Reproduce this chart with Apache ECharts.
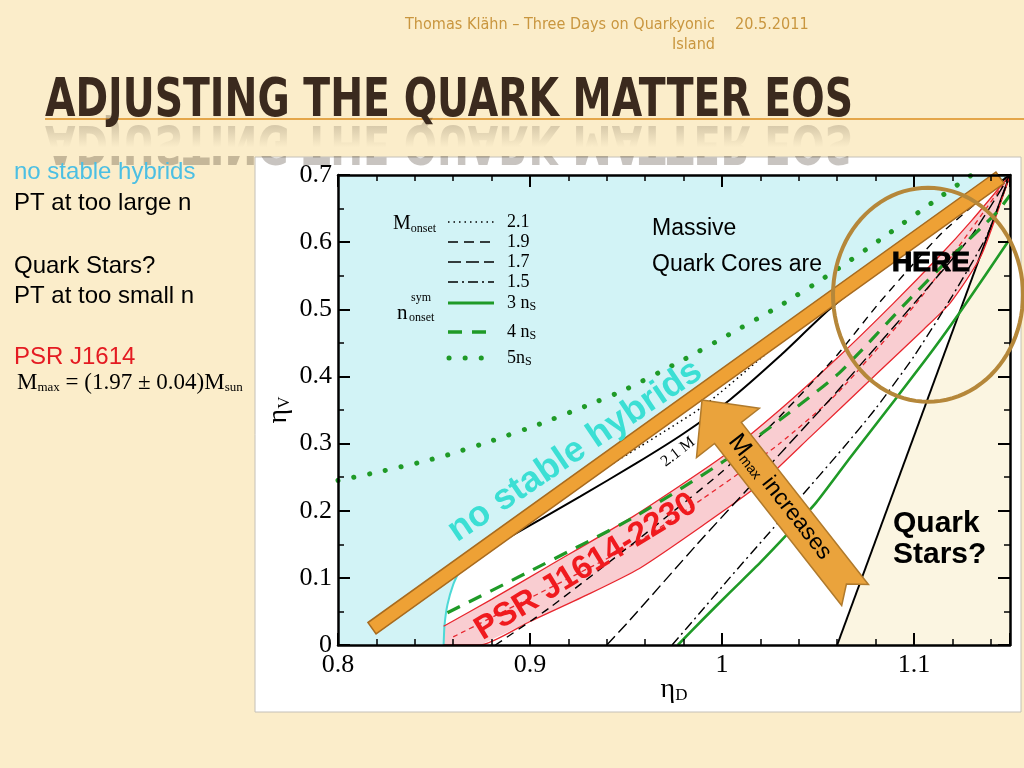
<!DOCTYPE html>
<html><head><meta charset="utf-8">
<script src="https://cdn.jsdelivr.net/npm/echarts@6/dist/echarts.min.js"></script>
<style>html,body{margin:0;padding:0;background:#FBEDCA;}#c{width:1024px;height:768px;}</style>
</head><body><div id="c"></div>
<script>
// ---------------- data (eta_D, eta_V) ----------------
const xTickLabels = ['0.8', '0.9', '1', '1.1'];
const yTickLabels = ['0', '0.1', '0.2', '0.3', '0.4', '0.5', '0.6', '0.7'];

const noHybridRegion = [[0.8,0],[0.855,0],[0.8555,0.03],[0.857,0.06],[0.86,0.09],[0.866,0.122],[1.15,0.7],[0.8,0.7]];
const cyanEdge = [[0.855,0],[0.8555,0.03],[0.857,0.06],[0.86,0.09],[0.864,0.115]];
const quarkStarRegion = [[1.06,0],[1.15,0],[1.15,0.7]];
const quarkStarEdge = [[1.06,0],[1.15,0.7]];

const psrUpper = [[0.855,0.028],[0.88,0.068],[0.91,0.118],[0.954,0.192],[1.0,0.28],[1.03,0.35],[1.061,0.43],[1.089,0.508],[1.1135,0.58],[1.13,0.632],[1.15,0.7]];
const psrLower = [[0.855,0],[0.874,0],[0.9,0.035],[0.93,0.075],[0.957,0.114],[0.99,0.178],[1.02,0.24],[1.046,0.31],[1.081,0.405],[1.105,0.47],[1.119,0.51],[1.135,0.58],[1.15,0.7]];
const psrMid = [[0.86,0.012],[0.9,0.07],[0.954,0.15],[0.99,0.218],[1.03,0.3],[1.06,0.375],[1.1015,0.51],[1.13,0.62],[1.15,0.7]];

const boundary21 = [[0.878,0.142],[0.884,0.152],[0.926,0.221],[0.955,0.27],[0.98,0.315],[1.004,0.365],[1.03,0.43],[1.056,0.5],[1.1,0.6],[1.15,0.7]];
const onset21 = [[0.91,0.212],[0.957,0.295],[0.99,0.355],[1.021,0.429],[1.05,0.5],[1.1,0.61],[1.15,0.7]];
const onset19 = [[0.882,0],[0.91,0.055],[0.954,0.152],[1.0,0.258],[1.03,0.34],[1.06,0.432],[1.082,0.51],[1.115,0.615],[1.15,0.7]];
const onset17 = [[0.94,0],[0.952,0.037],[0.987,0.15],[1.021,0.256],[1.056,0.365],[1.076,0.43],[1.105,0.525],[1.13,0.61],[1.15,0.7]];
const onset15 = [[0.974,0],[0.9885,0.048],[1.004,0.1],[1.023,0.162],[1.039,0.214],[1.063,0.293],[1.08,0.352],[1.1,0.43],[1.12,0.52],[1.138,0.61],[1.15,0.7]];

const nsym3 = [[0.977,0],[0.99,0.038],[1.004,0.078],[1.02,0.123],[1.034,0.165],[1.049,0.212],[1.067,0.28],[1.09,0.365],[1.11,0.44],[1.125,0.5],[1.15,0.605]];
const nsym4 = [[0.857,0.048],[0.9,0.11],[0.954,0.19],[1.0,0.272],[1.03,0.335],[1.061,0.405],[1.096,0.51],[1.12,0.58],[1.143,0.644],[1.15,0.67]];
const nsym5 = [[0.8,0.245],[0.82,0.257],[0.844,0.273],[0.857,0.283],[0.88,0.304],[0.905,0.329],[0.93,0.357],[0.95,0.381],[0.98,0.425],[1.004,0.463],[1.03,0.505],[1.056,0.552],[1.082,0.603],[1.11,0.66],[1.13,0.7]];

// annotation anchors (data coordinates)
const barEnds = [[0.8177,0.025],[1.1448,0.696]];
const arrowEnds = [[1.0693,0.0745],[0.9896,0.365]]; // tail, tip
const hereCenter = [1.1073,0.5216];

const legendOnset = ['2.1','1.9','1.7','1.5'];
const legendSym = ['3','4','5'];

// ---------------- helpers ----------------
const SERIF = "'Liberation Serif','Times New Roman',serif";
const SANS = "'Liberation Sans',Arial,sans-serif";
const NARROW = "'Liberation Sans Narrow','DejaVu Sans Condensed','Liberation Sans',sans-serif";
function measure(str, font){const c=document.createElement('canvas').getContext('2d');c.font=font;return c.measureText(str).width;}

function regionSeries(name, pts, fill, z){
  return {name, type:'custom', coordinateSystem:'cartesian2d', z, silent:true, clip:true,
    data:[pts[0]],
    renderItem:(p,api)=>({type:'polygon', shape:{points:pts.map(q=>api.coord(q))}, style:{fill:fill}})};
}
function lineSeries(name, data, color, width, type, z, extra){
  return {name, type:'line', data, showSymbol:false, symbol:'none', smooth:0.2,
    silent:true, z:z||5, lineStyle:Object.assign({color, width, type:type||'solid'}, extra||{})};
}
function band(){
  const pts = psrUpper.concat(psrLower.slice().reverse());
  return regionSeries('PSR J1614-2230', pts, '#F9CDD1', 2);
}
const barSeries = {type:'custom', coordinateSystem:'cartesian2d', z:30, silent:true, data:[barEnds[0]],
  renderItem:(p,api)=>{
    const a=api.coord(barEnds[0]), b=api.coord(barEnds[1]);
    const dx=b[0]-a[0], dy=b[1]-a[1], L=Math.hypot(dx,dy); const nx=-dy/L, ny=dx/L, w=7;
    return {type:'polygon', shape:{points:[[a[0]+nx*w,a[1]+ny*w],[b[0]+nx*w,b[1]+ny*w],[b[0]-nx*w,b[1]-ny*w],[a[0]-nx*w,a[1]-ny*w]]},
      style:{fill:'#EEA135', stroke:'#A86B1F', lineWidth:1.5}};
  }};
const arrowSeries = {type:'custom', coordinateSystem:'cartesian2d', z:32, silent:true, data:[arrowEnds[0]],
  renderItem:(p,api)=>{
    const t=api.coord(arrowEnds[0]), h=api.coord(arrowEnds[1]);
    const dx=h[0]-t[0], dy=h[1]-t[1], L=Math.hypot(dx,dy); const ux=dx/L, uy=dy/L, nx=-uy, ny=ux;
    const headLen=42, headHalf=40, shaftHalf=17, notch=14;
    const c=[h[0]-ux*headLen, h[1]-uy*headLen];
    const P=(o,k,m)=>[o[0]+ux*k+nx*m, o[1]+uy*k+ny*m];
    return {type:'polygon', shape:{points:[h, P(c,0,headHalf), P(c,0,shaftHalf), P(t,0,shaftHalf), P(t,notch,0), P(t,0,-shaftHalf), P(c,0,-shaftHalf), P(c,0,-headHalf)]},
      style:{fill:'#EAA33C', stroke:'#B07A2C', lineWidth:1.5}};
  }};
const ellipseSeries = {type:'custom', coordinateSystem:'cartesian2d', z:60, silent:true, clip:false, data:[hereCenter],
  renderItem:(p,api)=>{
    const c=api.coord(hereCenter); const pts=[];
    for(let i=0;i<96;i++){const a=i/96*2*Math.PI; pts.push([c[0]+95*Math.cos(a), c[1]+107*Math.sin(a)]);}
    return {type:'polygon', shape:{points:pts}, style:{fill:'none', stroke:'#B5873A', lineWidth:4}};
  }};

// ---------------- graphic (slide text, legend, labels) ----------------
const titleText = 'ADJUSTING THE QUARK MATTER EOS';
const titleFont = 'bold 54px ' + NARROW;
const titleScale = 808 / measure(titleText, titleFont);
const hdr1 = 'Thomas Klähn – Three Days on Quarkyonic';
const hdrFont = '15px ' + NARROW;
const hdrScale = 310 / measure(hdr1, hdrFont);
const BG = '#FBEDCA';

const G = [];
function T(text, x, y, style, extra){
  G.push(Object.assign({type:'text', x, y, z:100, silent:true,
    style:Object.assign({text, fill:'#000', fontFamily:SANS, fontSize:24, align:'left', verticalAlign:'middle'}, style)}, extra||{}));
}
// image panel
G.push({type:'rect', z:-10, silent:true, shape:{x:255, y:157, width:766, height:555}, style:{fill:'#fff', stroke:'#C4C0B8', lineWidth:1}});
// header
T(hdr1, 715, 25, {fontFamily:NARROW, fontSize:15, fill:'#C9963F', align:'right'}, {scaleX:hdrScale});
T('Island', 715, 45, {fontFamily:NARROW, fontSize:15, fill:'#C9963F', align:'right'}, {scaleX:hdrScale});
T('20.5.2011', 735, 25, {fontFamily:NARROW, fontSize:15, fill:'#C9963F'}, {scaleX:hdrScale});
// title + line + reflection
G.push({type:'line', z:90, silent:true, shape:{x1:45, y1:119, x2:1024, y2:119}, style:{stroke:'#E4A64A', lineWidth:2}});
T(titleText, 45, 102, {fontFamily:NARROW, fontSize:54, fontWeight:'bold', fill:'#3B2A1E'}, {scaleX:titleScale});
T(titleText, 45, 140, {fontFamily:NARROW, fontSize:54, fontWeight:'bold', fill:'#3B2A1E', opacity:0.28}, {scaleX:titleScale, scaleY:-1, z:95});
G.push({type:'rect', z:99, silent:true, shape:{x:40, y:121, width:984, height:35},
  style:{fill:new echarts.graphic.LinearGradient(0,0,0,1,[{offset:0,color:'rgba(251,237,202,0.2)'},{offset:0.75,color:'rgba(251,237,202,1)'},{offset:1,color:'rgba(251,237,202,1)'}])}});
// left text
T('no stable hybrids', 14, 172, {fill:'#4CBFE3'});
T('PT at too large n', 14, 203, {});
T('Quark Stars?', 14, 266, {});
T('PT at too small n', 14, 296, {});
T('PSR J1614', 14, 357, {fill:'#E41B22'});
T('{m|M}{s|max}{m| = (1.97 ± 0.04)M}{s|sun}', 17, 383, {fontFamily:SERIF,
  rich:{m:{fontFamily:SERIF, fontSize:23, fill:'#000'}, s:{fontFamily:SERIF, fontSize:13, fill:'#000', verticalAlign:'bottom', padding:[8,0,0,0]}}});
// axis names
T('{e|η}{s|D}', 674, 690, {align:'center', rich:{e:{fontFamily:SERIF, fontSize:28, fill:'#000'}, s:{fontFamily:SERIF, fontSize:17, fill:'#000', verticalAlign:'bottom', padding:[10,0,0,0]}}});
T('{e|η}{s|V}', 279, 410, {align:'center', rich:{e:{fontFamily:SERIF, fontSize:28, fill:'#000'}, s:{fontFamily:SERIF, fontSize:17, fill:'#000', verticalAlign:'bottom', padding:[10,0,0,0]}}}, {rotation:Math.PI/2});
// figure legend
T('{a|M}{b|onset}', 393, 224, {rich:{a:{fontFamily:SERIF, fontSize:20, fill:'#000'}, b:{fontFamily:SERIF, fontSize:12, fill:'#000', verticalAlign:'bottom', padding:[9,0,0,0]}}}, {z:40});
T('n', 397, 313, {fontFamily:SERIF, fontSize:21}, {z:40});
T('sym', 411, 298, {fontFamily:SERIF, fontSize:12}, {z:40});
T('onset', 409, 318, {fontFamily:SERIF, fontSize:12}, {z:40});
const legRows = [222, 242, 262, 282, 303, 332, 358];
const legStyles = [
  {stroke:'#000', lineWidth:1.5, lineDash:[1.5,4]},
  {stroke:'#000', lineWidth:1.5, lineDash:[10,6]},
  {stroke:'#000', lineWidth:1.5, lineDash:[13,5]},
  {stroke:'#000', lineWidth:1.5, lineDash:[10,4,2,4]},
  {stroke:'#1F9A27', lineWidth:3},
  {stroke:'#1F9A27', lineWidth:3.5, lineDash:[14,10]},
  {stroke:'#1F9A27', lineWidth:5, lineDash:[0.1,16], lineCap:'round'}];
legStyles.forEach((s,i)=>{G.push({type:'line', z:40, silent:true, shape:{x1:i===6?449:448, y1:legRows[i], x2:494, y2:legRows[i]}, style:s});});
legendOnset.forEach((v,i)=>T(v, 507, legRows[i], {fontFamily:SERIF, fontSize:18}, {z:40}));
legendSym.forEach((v,i)=>T('{a|'+v+(i<2?' ':'')+'n}{b|S}', 507, legRows[4+i], {rich:{a:{fontFamily:SERIF, fontSize:18, fill:'#000'}, b:{fontFamily:SERIF, fontSize:12, fill:'#000', verticalAlign:'bottom', padding:[8,0,0,0]}}}, {z:40}));
// in-plot annotations
T('Massive', 652, 229, {fontSize:23});
T('Quark Cores are', 652, 265, {fontSize:23});
T('HERE', 931, 263, {fontSize:28, fontWeight:'bold', align:'center', stroke:'#000', lineWidth:1.2});
T('Quark', 893, 524, {fontSize:30, fontWeight:'bold'});
T('Stars?', 893, 555, {fontSize:30, fontWeight:'bold'});
T('no stable hybrids', 575, 451, {fontSize:36, fontWeight:'bold', fill:'#3BDFD4', align:'center'}, {rotation:0.593});
T('PSR J1614-2230', 586, 567, {fontSize:33, fontWeight:'bold', fill:'#F01A1E', align:'center'}, {rotation:0.546, z:45});
T('2.1 M', 678, 452, {fontFamily:SERIF, fontSize:16, align:'center'}, {rotation:0.66, z:20});
T('{M|M}{s|max}{t| increases}', 780, 497, {align:'center', rich:{M:{fontFamily:SANS, fontSize:25, fill:'#000'}, s:{fontFamily:SANS, fontSize:14, fill:'#000', verticalAlign:'bottom', padding:[9,0,0,0]}, t:{fontFamily:SANS, fontSize:23, fill:'#000'}}}, {rotation:-0.906});

// ---------------- axes ----------------
function axisBase(extra){
  return Object.assign({type:'value', z:50,
    axisLine:{show:true, onZero:false, lineStyle:{color:'#000', width:2.5}},
    axisTick:{show:true, inside:true, length:12, lineStyle:{color:'#000', width:2}},
    splitLine:{show:false}, minorSplitLine:{show:false}}, extra);
}
const xLab = v=>{const i=Math.round((v-0.8)*10); return Math.abs(v-(0.8+i*0.1))<1e-6 && xTickLabels[i] ? xTickLabels[i] : '';};
const yLab = v=>{const i=Math.round(v*10); return Math.abs(v-i*0.1)<1e-6 && yTickLabels[i] ? yTickLabels[i] : '';};
const xCommon = {min:0.8, max:1.15, interval:0.1, minorTick:{show:true, splitNumber:5, length:6, lineStyle:{color:'#000', width:1.5}}};
const yCommon = {min:0, max:0.7, interval:0.1, minorTick:{show:true, splitNumber:2, length:6, lineStyle:{color:'#000', width:1.5}}};

const option = {
  animation:false,
  backgroundColor:BG,
  grid:{left:338, right:14, top:175, bottom:123, containLabel:false, outerBoundsMode:'none'},
  xAxis:[
    axisBase(Object.assign({position:'bottom', axisLabel:{show:true, margin:7, color:'#000', fontFamily:SERIF, fontSize:26, formatter:xLab}}, xCommon)),
    axisBase(Object.assign({position:'top', axisLabel:{show:false}}, xCommon))
  ],
  yAxis:[
    axisBase(Object.assign({position:'left', axisLabel:{show:true, margin:6, color:'#000', fontFamily:SERIF, fontSize:26, formatter:yLab}}, yCommon)),
    axisBase(Object.assign({position:'right', axisLabel:{show:false}}, yCommon))
  ],
  graphic:G,
  series:[
    regionSeries('no stable hybrids', noHybridRegion, '#D2F3F6', 1),
    regionSeries('Quark Stars?', quarkStarRegion, '#FBF5E1', 1),
    band(),
    lineSeries('cyan edge', cyanEdge, '#4DD9D6', 2, 'solid', 6),
    lineSeries('quark star edge', quarkStarEdge, '#000', 2, 'solid', 6),
    lineSeries('PSR upper', psrUpper, '#E8262E', 1.3, 'solid', 6),
    lineSeries('PSR lower', psrLower, '#E8262E', 1.3, 'solid', 6),
    lineSeries('PSR mid', psrMid, '#E8262E', 1.3, [5,4], 6),
    lineSeries('2.1 boundary', boundary21, '#000', 2, 'solid', 7),
    lineSeries('M_onset 2.1', onset21, '#000', 1.5, [1.5,3.5], 7),
    lineSeries('M_onset 1.9', onset19, '#000', 1.4, [8,6], 7),
    lineSeries('M_onset 1.7', onset17, '#000', 1.4, [12,5], 7),
    lineSeries('M_onset 1.5', onset15, '#000', 1.4, [10,4,2,4], 7),
    lineSeries('3 n_S', nsym3, '#1F9A27', 2.6, 'solid', 8),
    lineSeries('4 n_S', nsym4, '#1F9A27', 3.2, [14,10], 8),
    lineSeries('5 n_S', nsym5, '#1F9A27', 5, [0.1,16], 8, {cap:'round'}),
    barSeries,
    arrowSeries,
    ellipseSeries
  ]
};
const chart = echarts.init(document.getElementById('c'));
chart.setOption(option);
</script></body></html>
